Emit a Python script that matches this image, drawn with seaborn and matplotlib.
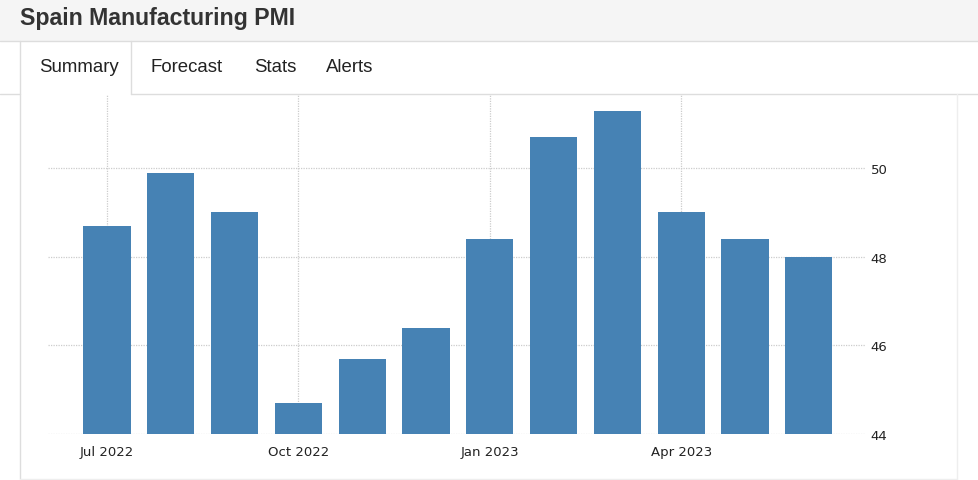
import matplotlib
matplotlib.use("Agg")
import matplotlib.pyplot as plt
import seaborn as sns
import pandas as pd
from matplotlib.lines import Line2D
from matplotlib.patches import Rectangle

months = ["Jul 2022", "Aug 2022", "Sep 2022", "Oct 2022", "Nov 2022", "Dec 2022",
          "Jan 2023", "Feb 2023", "Mar 2023", "Apr 2023", "May 2023", "Jun 2023"]
pmi = [48.7, 49.9, 49.0, 44.7, 45.7, 46.4, 48.4, 50.7, 51.3, 49.0, 48.4, 48.0]
tick_months = ["Jul 2022", "Oct 2022", "Jan 2023", "Apr 2023"]
y_ticks = [44, 46, 48, 50]
title = "Spain Manufacturing PMI"
tabs = ["Summary", "Forecast", "Stats", "Alerts"]

sns.set_theme(style="white")
plt.rcParams['font.family'] = ['DejaVu Sans']

W, H = 979, 481
fig = plt.figure(figsize=(W / 100, H / 100), dpi=100)
fig.patch.set_facecolor("white")

def fx(px):
    return px / W

def fy(py):
    return 1 - py / H

# header band
fig.patches.append(Rectangle((0, fy(42)), 1, 42 / H, transform=fig.transFigure,
                             facecolor="#f5f5f5", edgecolor="none", zorder=0))
fig.text(fx(20), fy(18), title, fontsize=16.7, fontweight="bold",
         family="Liberation Sans", color="#333333", va="center", ha="left")

border = "#dddddd"
def hline(x0, x1, y, c=border, lw=1):
    fig.add_artist(Line2D([fx(x0), fx(x1)], [fy(y), fy(y)], transform=fig.transFigure,
                          color=c, lw=lw))

def vline(x, y0, y1, c=border, lw=1):
    fig.add_artist(Line2D([fx(x), fx(x)], [fy(y0), fy(y1)], transform=fig.transFigure,
                          color=c, lw=lw))

hline(0, W, 42)
hline(0, 20, 94.5)
hline(131, W, 94.5)
vline(20.5, 42, 480)
vline(131, 42, 94.5)
vline(957, 94.5, 480, c="#eeeeee")
hline(20, 957, 480, c="#eeeeee")

tab_x = [39, 150, 254, 326]
for t, x in zip(tabs, tab_x):
    fig.text(fx(x), fy(68), t, fontsize=13.4, family="Liberation Sans",
             color="#222222", va="center", ha="left")

# chart
ax = fig.add_axes([fx(48), fy(435), fx(865 - 48), (435 - 96) / H])
df = pd.DataFrame({"month": months, "pmi": pmi})
sns.barplot(data=df, x="month", y="pmi", color="#4682b4", saturation=1,
            width=0.74, ax=ax, zorder=3)
for p in ax.patches:
    p.set_edgecolor("none")

ax.set_ylim(44, 51.65)
ax.set_xlim(-0.925, 11.88)
ax.set_yticks(y_ticks)
ax.yaxis.tick_right()
ax.set_yticklabels([str(v) for v in y_ticks], fontsize=9.5, color="#222222")
tick_pos = [months.index(m) for m in tick_months]
ax.set_xticks(tick_pos)
ax.set_xticklabels(tick_months, fontsize=9.5, color="#222222")
ax.tick_params(axis="x", length=5, color="#cccccc", width=1, pad=3)
ax.tick_params(axis="y", length=0, pad=4)
ax.set_xlabel("")
ax.set_ylabel("")
for s in ax.spines.values():
    s.set_visible(False)
ax.grid(True, axis="both", linestyle=(0, (1, 1)), color="#cccccc", lw=0.9, zorder=0)
ax.set_axisbelow(True)

fig.savefig("out.png", dpi=100, facecolor="white")
